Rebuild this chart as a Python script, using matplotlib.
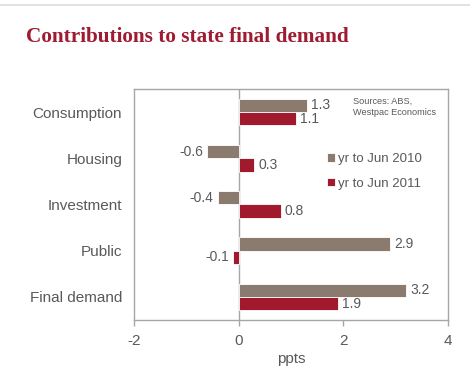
import matplotlib

matplotlib.use("Agg")
import matplotlib.pyplot as plt
from matplotlib.lines import Line2D

categories = ["Consumption", "Housing", "Investment", "Public", "Final demand"]
yr_2010 = [1.3, -0.6, -0.4, 2.9, 3.2]
yr_2011 = [1.1, 0.3, 0.8, -0.1, 1.9]
series_labels = ["yr to Jun 2010", "yr to Jun 2011"]
x_ticks = [-2, 0, 2, 4]

BROWN = "#8b7b6e"
RED = "#a0192d"
TEXT = "#595959"
SPINE = "#a6a6a6"

plt.rcParams["font.family"] = ["Liberation Sans", "DejaVu Sans"]

fig = plt.figure(figsize=(4.7, 3.74), dpi=100)
ax = fig.add_axes([134 / 470, 1 - 320 / 374, 314 / 470, 231 / 374])

bar_h = 0.29
ypos = list(range(len(categories)))
ax.barh([y - bar_h / 2 for y in ypos], yr_2010, height=bar_h, color=BROWN,
        edgecolor="white", linewidth=0.6, label=series_labels[0], zorder=2)
ax.barh([y + bar_h / 2 for y in ypos], yr_2011, height=bar_h, color=RED,
        edgecolor="white", linewidth=0.6, label=series_labels[1], zorder=2)

for values, shift in ((yr_2010, -bar_h / 2), (yr_2011, bar_h / 2)):
    for y, v in zip(ypos, values):
        ax.annotate(f"{v:.1f}", (v, y + shift), xytext=(3 if v >= 0 else -3, 0),
                    textcoords="offset points", ha="left" if v >= 0 else "right",
                    va="center", fontsize=10, color=TEXT)

ax.axvline(0, color=SPINE, linewidth=1, zorder=1)
ax.set_xlim(-2, 4)
ax.set_ylim(len(categories) - 0.5, -0.5)
ax.set_xticks(x_ticks)
ax.set_xticklabels([str(t) for t in x_ticks])
ax.set_yticks(ypos)
ax.set_yticklabels(categories)
ax.tick_params(axis="y", length=0, pad=8.5, labelsize=11, labelcolor=TEXT)
ax.tick_params(axis="x", direction="out", length=4, width=1, color=SPINE,
               pad=6, labelsize=11, labelcolor=TEXT)
ax.set_xlabel("ppts", fontsize=11, color=TEXT, labelpad=3)
for side in ax.spines.values():
    side.set_color(SPINE)
    side.set_linewidth(1)

ax.legend(loc="upper left", bbox_to_anchor=(327 / 470, 1 - 153 / 374),
          bbox_transform=fig.transFigure, frameon=False, fontsize=9.5,
          handlelength=0.6, handleheight=0.6, handletextpad=0.2,
          labelspacing=0.95, borderpad=0, borderaxespad=0, labelcolor=TEXT)

fig.text(353 / 470, 1 - 107 / 374, "Sources: ABS,\nWestpac Economics", fontsize=6.6,
         color=TEXT, ha="left", va="center", linespacing=1.4)

fig.text(26 / 470, 1 - 42 / 374, "Contributions to state final demand",
         family=["Liberation Serif", "DejaVu Serif"], fontweight="bold",
         fontsize=15.3, color="#9e1b32", ha="left", va="baseline")

fig.add_artist(Line2D([0, 1], [1 - 4.5 / 374] * 2, transform=fig.transFigure,
                      color="#dddddd", linewidth=1.2))

fig.savefig("out.png", dpi=100, facecolor="white")
